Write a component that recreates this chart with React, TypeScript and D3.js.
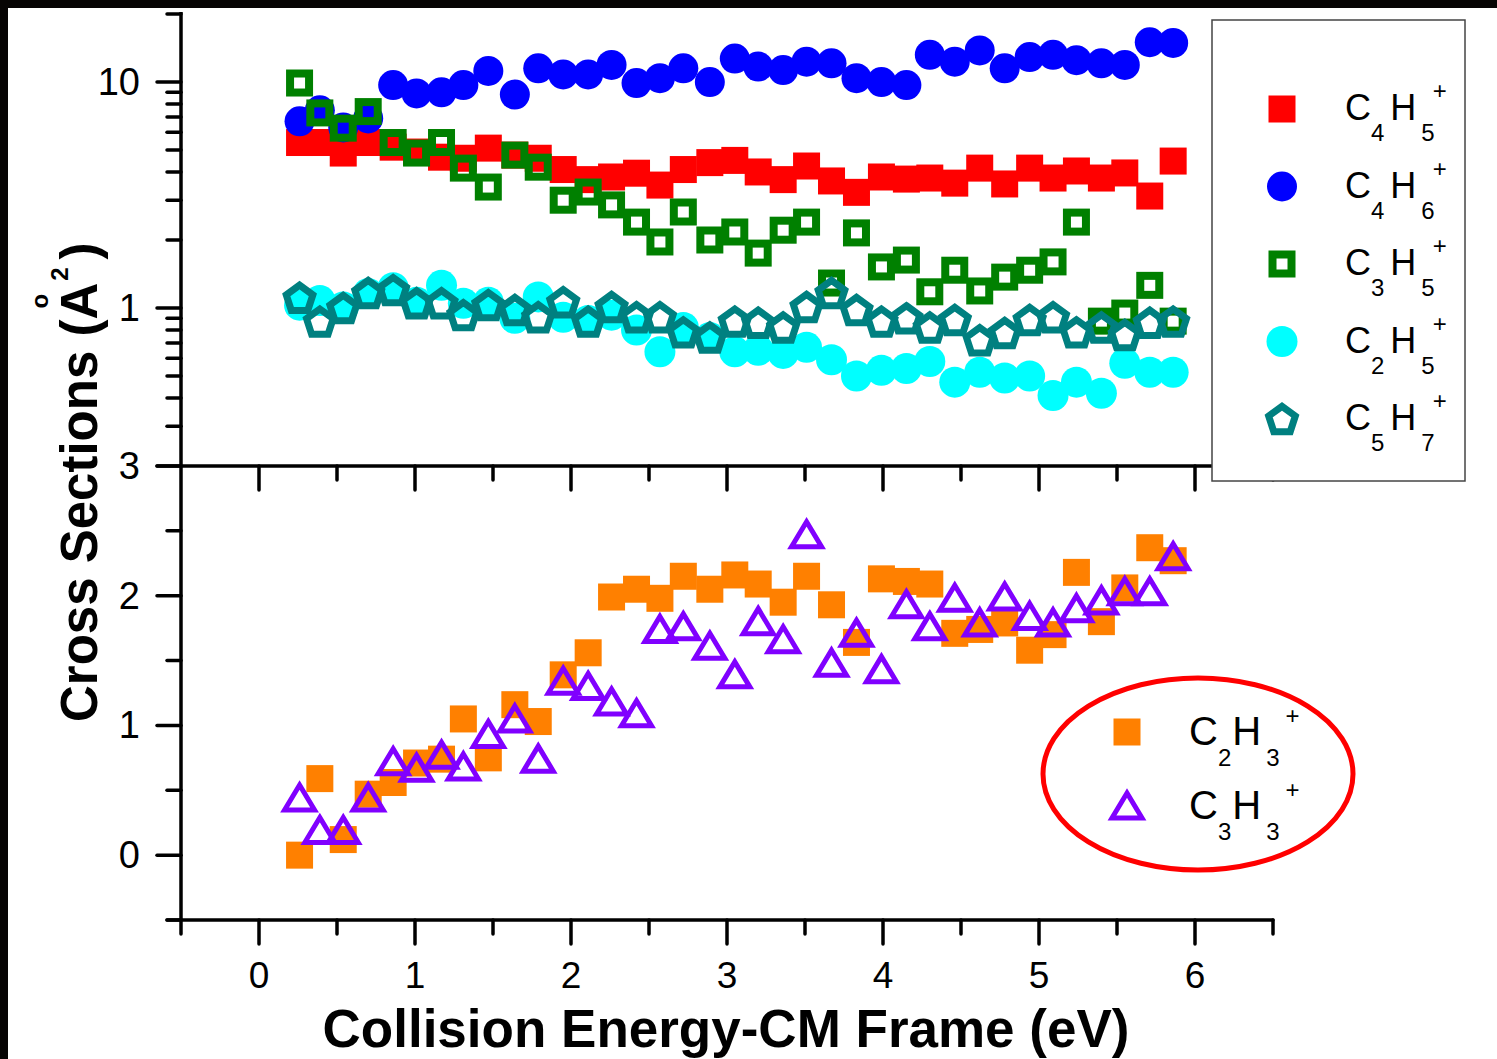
import * as d3 from "d3";

// collision energies (eV), shared by every series
const energies = [
  0.26, 0.39, 0.54, 0.7, 0.86, 1.01, 1.17, 1.31, 1.47, 1.64, 1.79, 1.95, 2.11,
  2.26, 2.42, 2.57, 2.72, 2.89, 3.05, 3.2, 3.36, 3.51, 3.67, 3.83, 3.99, 4.15,
  4.3, 4.46, 4.62, 4.78, 4.94, 5.09, 5.24, 5.4, 5.55, 5.71, 5.86,
];

// top panel (log scale)
const c4h5 = [
  5.4, 5.4, 4.85, 5.4, 5.15, 4.9, 4.65, 4.6, 5.1, 4.75, 4.6, 4.1, 3.7, 3.8,
  3.95, 3.5, 4.1, 4.4, 4.5, 4.0, 3.7, 4.25, 3.65, 3.25, 3.8, 3.72, 3.76, 3.57,
  4.16, 3.54, 4.16, 3.76, 4.04, 3.76, 3.96, 3.13, 4.47,
];
const c4h6 = [
  6.7, 7.5, 6.3, 6.9, 9.7, 8.9, 9.0, 9.7, 11.2, 8.8, 11.5, 10.8, 10.8, 11.9,
  9.9, 10.4, 11.5, 10.0, 12.7, 11.7, 11.3, 12.3, 12.1, 10.4, 10.0, 9.7, 13.2,
  12.3, 13.8, 11.5, 12.9, 13.2, 12.5, 12.1, 11.9, 15.0, 14.9,
];
const c3h5 = [
  9.9, 7.3, 6.25, 7.4, 5.4, 4.85, 5.4, 4.16, 3.43, 4.75, 4.2, 3.0, 3.26, 2.86,
  2.4, 1.96, 2.66, 2.0, 2.17, 1.75, 2.21, 2.4, 1.29, 2.15, 1.52, 1.63, 1.18,
  1.47, 1.19, 1.37, 1.47, 1.6, 2.4, 0.875, 0.95, 1.26, 0.875,
];
const c2h5 = [
  1.03, 1.08, 1.01, 1.16, 1.23, 1.06, 1.26, 1.05, 1.06, 0.9, 1.12, 0.91, 0.88,
  0.93, 0.8, 0.64, 0.82, 0.74, 0.64, 0.65, 0.63, 0.67, 0.59, 0.5, 0.53, 0.54,
  0.58, 0.47, 0.52, 0.49, 0.5, 0.41, 0.47, 0.42, 0.57, 0.52, 0.52,
];
const c5h7 = [
  1.11, 0.87, 1.0, 1.165, 1.2, 1.05, 1.05, 0.93, 1.03, 0.98, 0.91, 1.06, 0.87,
  1.01, 0.91, 0.91, 0.78, 0.74, 0.87, 0.86, 0.82, 1.01, 1.165, 0.98, 0.87, 0.9,
  0.82, 0.885, 0.72, 0.775, 0.885, 0.91, 0.78, 0.82, 0.76, 0.86, 0.87,
];

// bottom panel (linear)
const c2h3 = [
  0.0, 0.59, 0.12, 0.47, 0.56, 0.71, 0.74, 1.05, 0.75, 1.16, 1.03, 1.39, 1.56,
  1.99, 2.05, 1.98, 2.15, 2.05, 2.16, 2.09, 1.95, 2.15, 1.93, 1.64, 2.13, 2.11,
  2.09, 1.71, 1.74, 1.79, 1.58, 1.7, 2.18, 1.8, 2.06, 2.37, 2.27,
];
const c3h3 = [
  0.44, 0.19, 0.19, 0.44, 0.72, 0.67, 0.77, 0.68, 0.93, 1.05, 0.74, 1.34, 1.3,
  1.18, 1.09, 1.74, 1.76, 1.61, 1.39, 1.8, 1.66, 2.47, 1.48, 1.71, 1.43, 1.93,
  1.76, 1.98, 1.79, 1.99, 1.84, 1.79, 1.9, 1.96, 2.03, 2.03, 2.3,
];

const topLegend = [
  { c: "4", h: "5", key: "c4h5" },
  { c: "4", h: "6", key: "c4h6" },
  { c: "3", h: "5", key: "c3h5" },
  { c: "2", h: "5", key: "c2h5" },
  { c: "5", h: "7", key: "c5h7" },
];
const bottomLegend = [
  { c: "2", h: "3", key: "c2h3" },
  { c: "3", h: "3", key: "c3h3" },
];

const FONT = "'Liberation Sans', Arial, sans-serif";

const pentPath = (R: number) => {
  const pts = d3.range(5).map((i) => {
    const a = -Math.PI / 2 + (i * 2 * Math.PI) / 5;
    return [R * Math.cos(a), R * Math.sin(a) + 0.095 * R];
  });
  return "M" + pts.map((p) => p.join(",")).join("L") + "Z";
};
const triPath = "M0,-13L15,12L-15,12Z";

const marker = (key: string, cx: number, cy: number, k: string | number) => {
  switch (key) {
    case "c4h5":
      return <rect key={k} x={cx - 13.5} y={cy - 13.5} width={27} height={27} fill="#ff0000" />;
    case "c4h6":
      return <circle key={k} cx={cx} cy={cy} r={15} fill="#0000ff" />;
    case "c3h5":
      return (
        <rect key={k} x={cx - 9.5} y={cy - 9.5} width={19} height={19}
          fill="none" stroke="#008000" strokeWidth={8} />
      );
    case "c2h5":
      return <circle key={k} cx={cx} cy={cy} r={15.5} fill="#00ffff" />;
    case "c5h7":
      return (
        <path key={k} d={pentPath(14)} transform={`translate(${cx},${cy})`}
          fill="none" stroke="#008080" strokeWidth={7} />
      );
    case "c2h3":
      return <rect key={k} x={cx - 13.5} y={cy - 13.5} width={27} height={27} fill="#ff8000" />;
    default:
      return (
        <path key={k} d={triPath} transform={`translate(${cx},${cy})`}
          fill="none" stroke="#8000ff" strokeWidth={5} />
      );
  }
};

// C_xH_y^+ with subscripts, spaced like the original legend
const Formula = ({ x, y, c, h, size, sub, dxH, dxSub, dxPlus }: any) => (
  <text x={x} y={y} fontSize={size} fontFamily={FONT} fill="#000">
    C<tspan fontSize={sub} dy={21}>{c}</tspan>
    <tspan dx={dxH} dy={-21}>H</tspan>
    <tspan fontSize={sub} dx={dxSub} dy={21}>{h}</tspan>
    <tspan fontSize={sub} dx={dxPlus} dy={-42}>+</tspan>
  </text>
);

export default function App() {
  const x = d3.scaleLinear().domain([-0.5, 6.5]).range([181, 1273]);
  const yTop = d3.scaleLog().domain([0.2, 20]).range([466, 14]);
  const yBot = d3.scaleLinear().domain([-0.5, 3]).range([920, 466]);

  const topSeries: [string, number[]][] = [
    ["c4h5", c4h5],
    ["c4h6", c4h6],
    ["c3h5", c3h5],
    ["c2h5", c2h5],
    ["c5h7", c5h7],
  ];
  const botSeries: [string, number[]][] = [
    ["c2h3", c2h3],
    ["c3h3", c3h3],
  ];

  const axisStroke = { stroke: "#000", strokeWidth: 3.5, strokeLinecap: "round" as const };
  const xTicks = x.ticks(14);
  const topYTicks = yTop.ticks().filter((t) => t > 0.21);
  const botYTicks = yBot.ticks(7);
  const isMajorLog = (t: number) => Math.abs(Math.log10(t) - Math.round(Math.log10(t))) < 1e-6;

  return (
    <svg width={1497} height={1059}
      style={{ position: "absolute", left: 0, top: 0, display: "block" }}>
      <rect width={1497} height={1059} fill="#070504" />
      <rect x={8} y={8} width={1489} height={1051} fill="#fff" />

      {/* axis lines */}
      <line x1={181} x2={181} y1={12} y2={920} {...axisStroke} strokeLinecap="butt" />
      <line x1={157} x2={1273} y1={466} y2={466} {...axisStroke} />
      <line x1={167} x2={1273} y1={920} y2={920} {...axisStroke} />

      {/* top panel y ticks */}
      {topYTicks.map((t, i) => (
        <line key={"ty" + i} x1={isMajorLog(t) ? 157 : 167} x2={181}
          y1={yTop(t)} y2={yTop(t)} {...axisStroke} />
      ))}
      {topYTicks.filter(isMajorLog).map((t, i) => (
        <text key={"tyl" + i} x={140} y={yTop(t) + 13} textAnchor="end"
          fontSize={38} fontFamily={FONT}>{t}</text>
      ))}

      {/* bottom panel y ticks */}
      {botYTicks.map((t, i) => (
        <line key={"by" + i} x1={Number.isInteger(t) ? 157 : 167} x2={181}
          y1={yBot(t)} y2={yBot(t)} {...axisStroke} />
      ))}
      {botYTicks.filter((t) => Number.isInteger(t)).map((t, i) => (
        <text key={"byl" + i} x={140} y={yBot(t) + 13} textAnchor="end"
          fontSize={38} fontFamily={FONT}>{t}</text>
      ))}

      {/* x ticks: inside the lower panel top edge, outside at the bottom */}
      {xTicks.filter((t) => t > -0.5).map((t, i) => (
        <line key={"xt" + i} x1={x(t)} x2={x(t)} y1={466}
          y2={466 + (Number.isInteger(t) ? 24 : 14)} {...axisStroke} />
      ))}
      {xTicks.map((t, i) => (
        <line key={"xb" + i} x1={x(t)} x2={x(t)} y1={920}
          y2={920 + (Number.isInteger(t) ? 24 : 14)} {...axisStroke} />
      ))}
      {xTicks.filter((t) => Number.isInteger(t)).map((t, i) => (
        <text key={"xl" + i} x={x(t)} y={988} textAnchor="middle"
          fontSize={37} fontFamily={FONT}>{t}</text>
      ))}

      {/* data */}
      {topSeries.map(([key, vals]) => (
        <g key={key}>{vals.map((v, i) => marker(key, x(energies[i]), yTop(v), i))}</g>
      ))}
      {botSeries.map(([key, vals]) => (
        <g key={key}>{vals.map((v, i) => marker(key, x(energies[i]), yBot(v), i))}</g>
      ))}

      {/* titles */}
      <text x={726} y={1047} textAnchor="middle" fontSize={53} fontWeight="bold"
        fontFamily={FONT}>Collision Energy-CM Frame (eV)</text>
      <g transform="translate(97,722) rotate(-90)">
        <text x={0} y={0} fontSize={51} fontWeight="bold" fontFamily={FONT}>
          Cross Sections (A
          <tspan fontSize={24} dx={-25.8} dy={-49}>o</tspan>
          <tspan fontSize={24} dx={13} dy={20}>2</tspan>
          <tspan dx={8} dy={29}>)</tspan>
        </text>
      </g>

      {/* top legend */}
      <rect x={1212} y={20} width={253} height={461} fill="#fff" stroke="#444" strokeWidth={1.5} />
      {topLegend.map((d, i) => {
        const cy = 109 + i * 77.5;
        return (
          <g key={d.key}>
            {marker(d.key, 1282, cy, "m")}
            <Formula x={1345} y={cy + 11} c={d.c} h={d.h} size={36} sub={24}
              dxH={6} dxSub={5} dxPlus={-2} />
          </g>
        );
      })}

      {/* bottom legend */}
      <ellipse cx={1198} cy={774} rx={155} ry={96} fill="none" stroke="#ff0000" strokeWidth={5} />
      {bottomLegend.map((d, i) => {
        const cy = 732 + i * 74;
        return (
          <g key={d.key}>
            {marker(d.key, 1127, cy, "m")}
            <Formula x={1189} y={cy + 13} c={d.c} h={d.h} size={40} sub={24}
              dxH={1} dxSub={5} dxPlus={6} />
          </g>
        );
      })}
    </svg>
  );
}
